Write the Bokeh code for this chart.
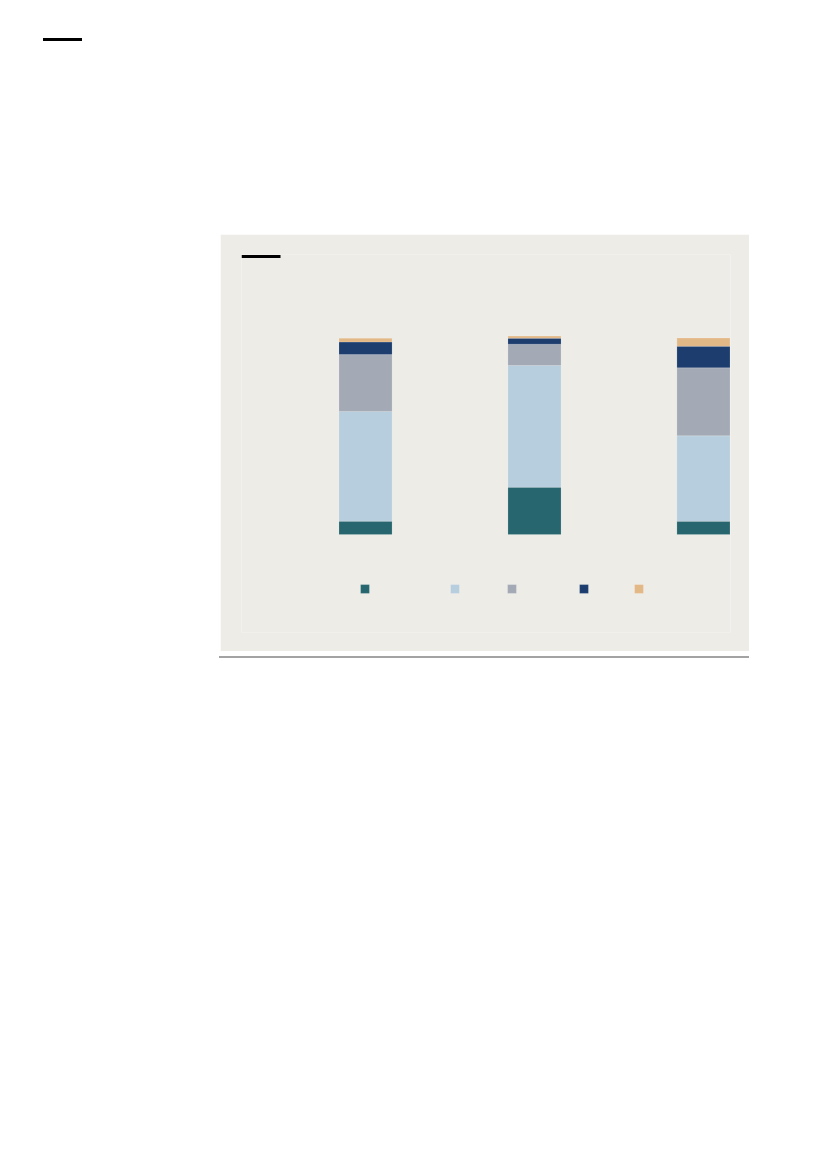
from bokeh.plotting import figure
from bokeh.models import ColumnDataSource, Range1d, Legend, LegendItem, BoxAnnotation, Div
from bokeh.layouts import column
from bokeh.core.properties import value
from bokeh.embed import file_html
from bokeh.resources import INLINE

# ---- data (no visible labels in the reference) ----
categories = ["Group 1", "Group 2", "Group 3"]
series = ["S1", "S2", "S3", "S4", "S5"]
s1 = [6.8, 24.0, 6.7]
s2 = [55.7, 61.8, 43.4]
s3 = [28.8, 10.8, 34.5]
s4 = [6.4, 3.0, 10.9]
s5 = [1.9, 1.1, 4.2]
colors = ["#27666E", "#B7CEDE", "#A3AAB6", "#1C3D6E", "#E3B887"]

BG = "#EDECE7"

src = ColumnDataSource(dict(
    x=list(range(len(categories))),
    S1=s1, S2=s2, S3=s3, S4=s4, S5=s5,
))

p = figure(width=529, height=417, output_backend="svg", toolbar_location=None,
           x_range=Range1d(-0.734, 2.16), y_range=Range1d(-49.7, 142.1),
           x_axis_location=None, y_axis_location=None,
           min_border_left=21, min_border_right=19, min_border_top=20, min_border_bottom=19,
           background_fill_color=BG, border_fill_color=BG, outline_line_color=None,
           margin=(193, 0, 0, 220))
p.grid.visible = False

renderers = p.vbar_stack(series, x="x", width=0.314, source=src, color=colors,
                         line_color="white", line_alpha=0.15, line_width=1)

# legend swatches (labels are absent in the reference)
locs = [118.4, 208.4, 264.9, 337.4, 392.4]
for r, lx in zip(renderers, locs):
    lg = Legend(items=[LegendItem(label=value(""), renderers=[r])],
                location=(lx, 38.4), orientation="horizontal",
                glyph_width=11, glyph_height=11, label_width=0, label_height=11,
                label_standoff=0, padding=0, margin=0, spacing=0,
                border_line_color=None, background_fill_alpha=0)
    p.add_layout(lg)

# black rule at top-left of panel
p.add_layout(BoxAnnotation(left=21, right=60, top=20.5, bottom=23.5,
                           left_units="canvas", right_units="canvas",
                           top_units="canvas", bottom_units="canvas",
                           fill_color="black", fill_alpha=1, line_color=None))

top_rule = Div(text="", width=39, height=3, margin=(38, 0, 0, 43),
               styles={"background-color": "#000000"})
bottom_rule = Div(text="", width=530, height=2, margin=(5, 0, 0, 219),
                  styles={"background-color": "#A3A3A3"})

layout = column(top_rule, p, bottom_rule, spacing=0)

open("out.html", "w").write(file_html(layout, INLINE))
